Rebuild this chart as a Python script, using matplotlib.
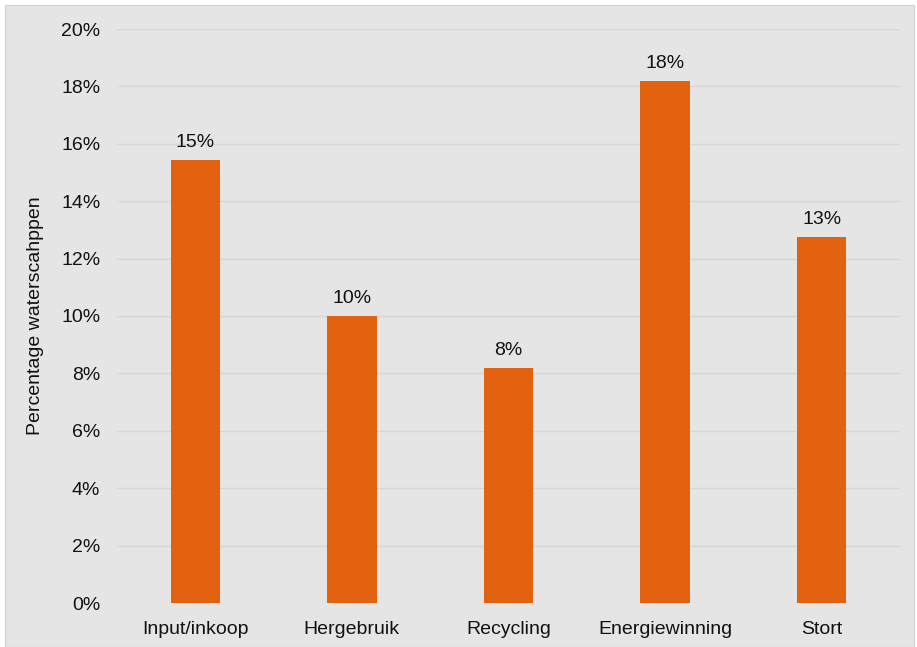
import matplotlib.pyplot as plt
from matplotlib.patches import Rectangle
from matplotlib.ticker import FuncFormatter

CATEGORIES = ["Input/inkoop", "Hergebruik", "Recycling", "Energiewinning", "Stort"]
PERCENTAGES = [15.45, 10.0, 8.2, 18.2, 12.75]
LABELS = ["15%", "10%", "8%", "18%", "13%"]
Y_TICKS = [0, 2, 4, 6, 8, 10, 12, 14, 16, 18, 20]

BAR_COLOR = "#E36210"
BG_COLOR = "#E5E5E5"
GRID_COLOR = "#D6D6D6"

plt.rcParams["font.family"] = ["Liberation Sans", "DejaVu Sans"]

fig = plt.figure(figsize=(9.17, 6.47), dpi=100)
fig.patch.set_facecolor("white")
fig.patches.append(Rectangle((5 / 917, 0), 909 / 917, 642 / 647, transform=fig.transFigure,
                             facecolor=BG_COLOR, edgecolor="#D2D2D2", linewidth=0.8, zorder=-5))

ax = fig.add_axes([117 / 917, 44 / 647, 783 / 917, 574 / 647])
ax.set_facecolor("none")
ax.set_zorder(1)

x = range(len(CATEGORIES))
bars = ax.bar(x, PERCENTAGES, width=0.315, color=BAR_COLOR, zorder=3)

for bar, label in zip(bars, LABELS):
    ax.annotate(label, (bar.get_x() + bar.get_width() / 2, bar.get_height()),
                xytext=(0, 6.5), textcoords="offset points", ha="center", va="bottom",
                fontsize=14, color="#111111")

ax.set_xlim(-0.5, len(CATEGORIES) - 0.5)
ax.set_ylim(0, 20)
ax.set_yticks(Y_TICKS)
ax.yaxis.set_major_formatter(FuncFormatter(lambda v, _: f"{v:.0f}%"))
ax.set_xticks(list(x))
ax.set_xticklabels(CATEGORIES)
ax.tick_params(axis="both", length=0, labelsize=14, colors="#111111")
ax.tick_params(axis="y", pad=12)
ax.tick_params(axis="x", pad=13)

ax.grid(axis="y", color=GRID_COLOR, linewidth=1.0, zorder=0)
for side in ["top", "right", "left", "bottom"]:
    ax.spines[side].set_visible(False)

ax.set_ylabel("Percentage waterscahppen", fontsize=14, color="#111111", labelpad=12)

fig.savefig("out.png", dpi=100, facecolor=fig.get_facecolor())
